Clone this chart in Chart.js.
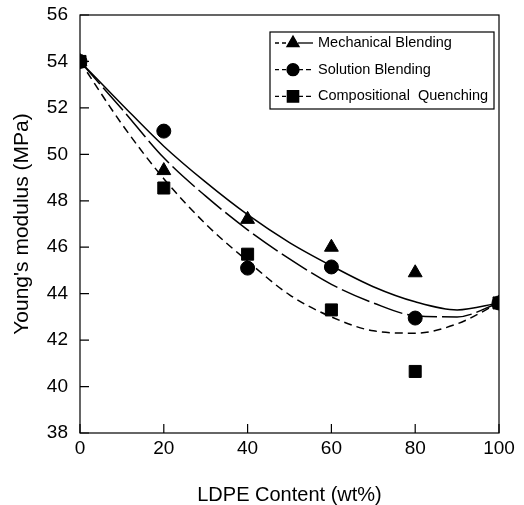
<!DOCTYPE html>
<html>
<head>
<meta charset="utf-8">
<script src="https://cdn.jsdelivr.net/npm/chart.js@4.4.0/dist/chart.umd.min.js"></script>
<style>
  html, body { margin: 0; padding: 0; background: #fff; }
</style>
</head>
<body>
<canvas id="modulusChart" width="524" height="505"></canvas>
<script>
// measured points (LDPE wt% vs Young's modulus, MPa)
const ldpeContent = [0, 20, 40, 60, 80, 100];
const mechanicalBlending = [54, 49.3, 47.2, 46.0, 44.9, 43.6];
const solutionBlending = [54, 51.0, 45.1, 45.15, 42.95, 43.6];
const compositionalQuenching = [54, 48.55, 45.7, 43.3, 40.65, 43.6];

// fitted curves, every 10 wt%
const fitContent = [0, 10, 20, 30, 40, 50, 60, 70, 80, 90, 100];
const mechanicalFit = [54, 52.15, 50.35, 48.8, 47.4, 46.2, 45.2, 44.3, 43.65, 43.3, 43.6];
const solutionFit = [54, 51.95, 49.85, 48.2, 46.75, 45.5, 44.4, 43.6, 43.05, 43.0, 43.6];
const quenchingFit = [54, 51.3, 48.95, 47.0, 45.4, 43.95, 43.0, 42.4, 42.3, 42.7, 43.6];

const legendLabels = ['Mechanical Blending', 'Solution Blending', 'Compositional  Quenching'];

const pairs = (xs, ys) => xs.map((x, i) => ({ x: x, y: ys[i] }));
const FONT = '"Liberation Sans", Arial, Helvetica, sans-serif';

function fitLine(data, dash) {
    return {
        type: 'line',
        data: data,
        borderColor: '#000',
        borderWidth: 1.5,
        borderDash: dash,
        pointRadius: 0,
        fill: false,
        cubicInterpolationMode: 'monotone'
    };
}

function markers(data, style, radius) {
    return {
        type: 'scatter',
        data: data,
        showLine: false,
        pointStyle: style,
        pointRadius: radius,
        pointBackgroundColor: '#000',
        pointBorderColor: '#000',
        pointBorderWidth: 1
    };
}

function drawMarker(ctx, style, radius, x, y) {
    Chart.helpers.drawPoint(ctx, { pointStyle: style, radius: radius, rotation: 0, borderWidth: 1 }, x, y);
    ctx.fill();
}

// box around the plot + inward tick marks
const framePlugin = {
    id: 'frameAndTicks',
    beforeDatasetsDraw(chart) {
        const { ctx, chartArea: a, scales } = chart;
        ctx.save();
        ctx.strokeStyle = '#000';
        ctx.lineWidth = 1.2;
        ctx.strokeRect(a.left, a.top, a.right - a.left, a.bottom - a.top);
        ctx.beginPath();
        scales.x.ticks.forEach(t => {
            const px = scales.x.getPixelForValue(t.value);
            ctx.moveTo(px, a.bottom);
            ctx.lineTo(px, a.bottom - 9);
        });
        scales.y.ticks.forEach(t => {
            const py = scales.y.getPixelForValue(t.value);
            ctx.moveTo(a.left, py);
            ctx.lineTo(a.left + 9, py);
        });
        ctx.stroke();
        ctx.restore();
    }
};

// boxed legend in the top-right corner
const legendPlugin = {
    id: 'boxedLegend',
    afterDraw(chart) {
        const { ctx, chartArea: a } = chart;
        const right = a.right - 5, left = right - 224;
        const top = a.top + 17, bottom = top + 77;
        const styles = [
            { marker: 'triangle', r: 7, dash: [] },
            { marker: 'circle', r: 6, dash: [5, 3] },
            { marker: 'rect', r: 8, dash: [5, 3] }
        ];
        ctx.save();
        ctx.strokeStyle = '#000';
        ctx.fillStyle = '#000';
        ctx.lineWidth = 1.2;
        ctx.strokeRect(left, top, right - left, bottom - top);
        ctx.font = '14.5px ' + FONT;
        ctx.textBaseline = 'middle';
        legendLabels.forEach((label, i) => {
            const y = top + 11 + i * 26.7;
            const s = styles[i];
            ctx.lineWidth = 1.3;
            ctx.setLineDash([4, 3]);
            ctx.beginPath();
            ctx.moveTo(left + 5, y);
            ctx.lineTo(left + 18, y);
            ctx.stroke();
            ctx.setLineDash(s.dash);
            ctx.beginPath();
            ctx.moveTo(left + 28, y);
            ctx.lineTo(left + 43, y);
            ctx.stroke();
            ctx.setLineDash([]);
            drawMarker(ctx, s.marker, s.r, left + 23, y);
            ctx.fillText(label, left + 48, y);
        });
        ctx.restore();
    }
};

const chart = new Chart(document.getElementById('modulusChart'), {
    data: {
        datasets: [
            fitLine(pairs(fitContent, mechanicalFit), []),
            fitLine(pairs(fitContent, solutionFit), [30, 5]),
            fitLine(pairs(fitContent, quenchingFit), [8, 5]),
            markers(pairs(ldpeContent, mechanicalBlending), 'triangle', 8),
            markers(pairs(ldpeContent, solutionBlending), 'circle', 7),
            markers(pairs(ldpeContent, compositionalQuenching), 'rect', 8.5)
        ]
    },
    options: {
        responsive: false,
        animation: false,
        devicePixelRatio: 1,
        layout: { padding: { top: 15, right: 25, left: 0, bottom: 0 } },
        plugins: {
            legend: { display: false },
            tooltip: { enabled: false }
        },
        scales: {
            x: {
                type: 'linear',
                min: 0,
                max: 100,
                ticks: { stepSize: 20, color: '#000', padding: 4, font: { family: FONT, size: 19 } },
                grid: { display: false, drawTicks: false },
                border: { display: false },
                title: {
                    display: true,
                    text: 'LDPE Content (wt%)',
                    color: '#000',
                    padding: 0,
                    font: { family: FONT, size: 20, lineHeight: 1 }
                },
                afterFit(s) { s.height = 72; s.paddingLeft = 0; s.paddingRight = 0; }
            },
            y: {
                type: 'linear',
                min: 38,
                max: 56,
                ticks: { stepSize: 2, color: '#000', padding: 12, font: { family: FONT, size: 19 } },
                grid: { display: false, drawTicks: false },
                border: { display: false },
                title: {
                    display: true,
                    text: "Young's modulus (MPa)",
                    color: '#000',
                    padding: { top: 10, bottom: 0 },
                    font: { family: FONT, size: 21, lineHeight: 1.2 }
                },
                afterFit(s) { s.width = 80; s.paddingTop = 0; s.paddingBottom = 0; }
            }
        }
    },
    plugins: [framePlugin, legendPlugin]
});
</script>
</body>
</html>
